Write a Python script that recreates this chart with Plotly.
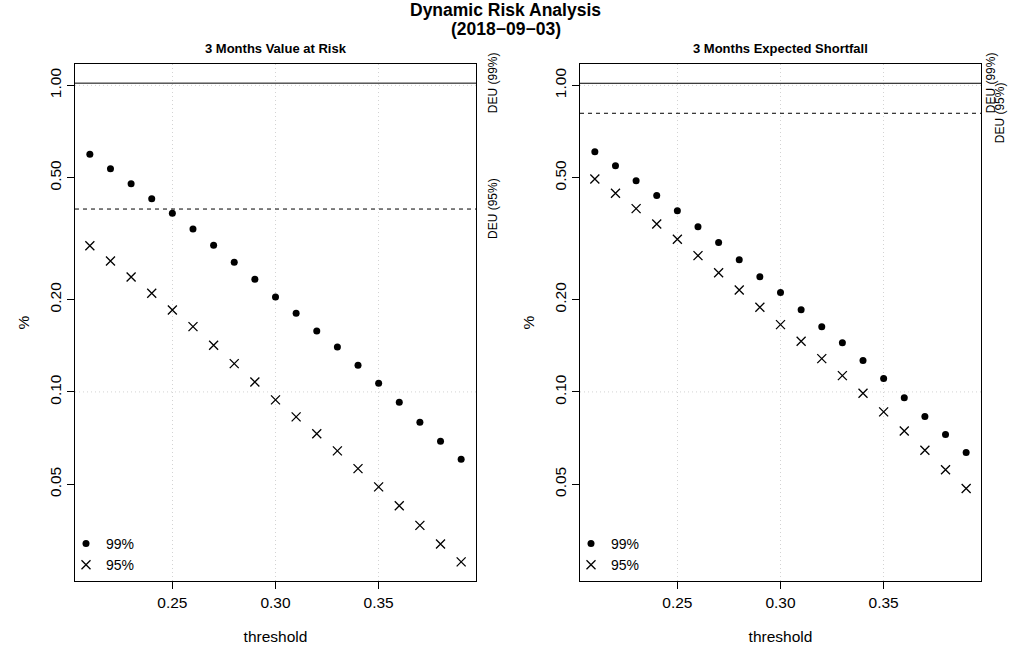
import numpy as np
import plotly.graph_objects as go

# ---------------- data ----------------
threshold = [0.21, 0.22, 0.23, 0.24, 0.25, 0.26, 0.27, 0.28, 0.29, 0.30,
             0.31, 0.32, 0.33, 0.34, 0.35, 0.36, 0.37, 0.38, 0.39]

var_99 = [0.596, 0.535, 0.478, 0.427, 0.383, 0.340, 0.301, 0.265, 0.233, 0.204,
          0.1806, 0.158, 0.140, 0.1222, 0.1068, 0.0926, 0.0796, 0.0690, 0.0603]
var_95 = [0.300, 0.2675, 0.2372, 0.2099, 0.1851, 0.1633, 0.1420, 0.1237, 0.1078, 0.0942,
          0.0829, 0.0730, 0.0642, 0.0562, 0.0490, 0.0425, 0.0367, 0.0319, 0.0279]

es_99 = [0.608, 0.547, 0.489, 0.437, 0.390, 0.346, 0.307, 0.270, 0.2377, 0.2109,
         0.1855, 0.1633, 0.1448, 0.1265, 0.1105, 0.0958, 0.0831, 0.0726, 0.0634]
es_95 = [0.495, 0.4446, 0.3962, 0.3531, 0.3148, 0.2783, 0.2449, 0.2151, 0.1889, 0.1658,
         0.1463, 0.1284, 0.1130, 0.0990, 0.0861, 0.0746, 0.0645, 0.0557, 0.0484]

var_deu_99 = 1.017
var_deu_95 = 0.395
es_deu_99 = 1.016
es_deu_95 = 0.811

y_ticks = [0.05, 0.10, 0.20, 0.50, 1.00]
y_grid = [0.10, 1.00]
x_ticks = [0.25, 0.30, 0.35]

main_title = "Dynamic Risk Analysis"
sub_title = "(2018\u221209\u221203)"
panel_titles = ["3 Months Value at Risk", "3 Months Expected Shortfall"]

# ---------------- layout helpers ----------------
W, H = 1011, 656
ML, MR, MT, MB = 75, 30, 64, 75
PW, PH = W - ML - MR, H - MT - MB
FONT = "Liberation Sans, Arial, Helvetica, sans-serif"


def px(x):
    return (x - ML) / PW


def py(y):
    return (H - MB - y) / PH


# R-style 4% axis extension
xr = [min(threshold), max(threshold)]
xd = 0.04 * (xr[1] - xr[0])
x_range = [xr[0] - xd, xr[1] + xd]
all_y = var_99 + var_95 + es_99 + es_95 + [var_deu_99, var_deu_95, es_deu_99, es_deu_95]
ly = [np.log10(min(all_y)), np.log10(max(all_y))]
yd = 0.04 * (ly[1] - ly[0])
y_range = [ly[0] - yd, ly[1] + yd]

fig = go.Figure()

panels = [
    dict(xa="x", ya="y", leg="legend", d99=var_99, d95=var_95, deu=(var_deu_99, var_deu_95)),
    dict(xa="x2", ya="y2", leg="legend2", d99=es_99, d95=es_95, deu=(es_deu_99, es_deu_95)),
]

for p in panels:
    fig.add_trace(go.Scatter(
        x=threshold, y=p["d99"], mode="markers", name="99%",
        marker=dict(symbol="circle", size=7, color="black"),
        xaxis=p["xa"], yaxis=p["ya"], legend=p["leg"]))
    fig.add_trace(go.Scatter(
        x=threshold, y=p["d95"], mode="markers", name="95%",
        marker=dict(symbol="x-thin", size=9, color="black",
                    line=dict(width=1.3, color="black")),
        xaxis=p["xa"], yaxis=p["ya"], legend=p["leg"]))
    # dotted decade gridlines
    for g in y_grid:
        fig.add_shape(type="line", xref=p["xa"] + " domain", x0=0, x1=1,
                      yref=p["ya"], y0=g, y1=g, layer="below",
                      line=dict(color="#D3D3D3", width=1, dash="1px,3px"))
    # DEU reference lines
    fig.add_shape(type="line", xref=p["xa"] + " domain", x0=0, x1=1,
                  yref=p["ya"], y0=p["deu"][0], y1=p["deu"][0],
                  line=dict(color="black", width=1))
    fig.add_shape(type="line", xref=p["xa"] + " domain", x0=0, x1=1,
                  yref=p["ya"], y0=p["deu"][1], y1=p["deu"][1],
                  line=dict(color="black", width=1, dash="4px,4px"))

axis_common = dict(
    showline=True, mirror=True, linecolor="black", linewidth=1,
    ticks="outside", ticklen=7, tickwidth=1, tickcolor="black",
    tickfont=dict(family=FONT, size=15.5, color="black"),
    zeroline=False, tickformat=".2f",
)

x_common = dict(axis_common, range=x_range, tickvals=x_ticks,
                showgrid=True, gridcolor="#D3D3D3", griddash="1px,3px", gridwidth=1,
                title=dict(text="threshold", font=dict(family=FONT, size=15.5, color="black"),
                           standoff=21))
y_common = dict(axis_common, type="log", range=y_range, tickvals=y_ticks,
                tickangle=-90, showgrid=False,
                title=dict(text="%", font=dict(family=FONT, size=15.5, color="black"),
                           standoff=13))

leg_common = dict(bgcolor="rgba(0,0,0,0)", font=dict(family=FONT, size=14, color="black"),
                  xanchor="left", yanchor="bottom", borderwidth=0, tracegroupgap=0)

fig.update_layout(
    width=W, height=H,
    margin=dict(l=ML, r=MR, t=MT, b=MB),
    paper_bgcolor="white", plot_bgcolor="white",
    font=dict(family=FONT, color="black"),
    xaxis=dict(x_common, domain=[0, px(476)], anchor="y"),
    yaxis=dict(y_common, domain=[0, 1], anchor="x"),
    xaxis2=dict(x_common, domain=[px(580), 1], anchor="y2"),
    yaxis2=dict(y_common, domain=[0, 1], anchor="x2"),
    legend=dict(leg_common, x=px(66), y=py(581)),
    legend2=dict(leg_common, x=px(571), y=py(581)),
    showlegend=True,
)

ann = []
ann.append(dict(text="<b>" + main_title + "</b>", x=px(505.5), y=py(10), xref="paper", yref="paper",
                showarrow=False, xanchor="center", yanchor="middle",
                font=dict(family=FONT, size=17.5, color="black")))
ann.append(dict(text="<b>" + sub_title + "</b>", x=px(505.5), y=py(29), xref="paper", yref="paper",
                showarrow=False, xanchor="center", yanchor="middle",
                font=dict(family=FONT, size=17.5, color="black")))
for t, cx in zip(panel_titles, [275.5, 780.5]):
    ann.append(dict(text="<b>" + t + "</b>", x=px(cx), y=py(49), xref="paper", yref="paper",
                    showarrow=False, xanchor="center", yanchor="middle",
                    font=dict(family=FONT, size=13, color="black")))

# DEU side labels
deu_labels = [
    ("DEU (99%)", "y", var_deu_99, 493),
    ("DEU (95%)", "y", var_deu_95, 493),
    ("DEU (99%)", "y2", es_deu_99, 991),
    ("DEU (95%)", "y2", es_deu_95, 1000),
]
for txt, ya, val, xp in deu_labels:
    ann.append(dict(text=txt, x=px(xp), xref="paper", y=np.log10(val), yref=ya,
                    showarrow=False, textangle=-90, xanchor="center", yanchor="middle",
                    font=dict(family=FONT, size=12, color="black")))

fig.update_layout(annotations=ann)
fig.write_html(
    "out.html",
    config={"displayModeBar": False},
    post_script="document.body.style.margin='0px';document.body.style.padding='0px';"
                "document.body.style.overflow='hidden';",
)
